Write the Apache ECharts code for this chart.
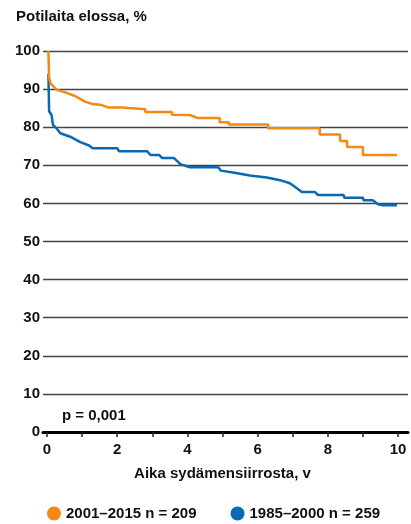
<!DOCTYPE html>
<html><head><meta charset="utf-8">
<script src="https://cdn.jsdelivr.net/npm/echarts@6/dist/echarts.min.js"></script>
<style>html,body{margin:0;padding:0;background:#fff}#c{width:411px;height:524px}</style>
</head><body><div id="c"></div>
<script>
const FONT = '"Liberation Sans",Arial,sans-serif';
const titleText = 'Potilaita elossa, %';
const xAxisName = 'Aika sydämensiirrosta, v';
const pText = 'p = 0,001';
const seriesNames = ['2001–2015 n = 209', '1985–2000 n = 259'];
const seriesColors = ['#f28a14', '#0a69b3'];
const xTicks = [0, 2, 4, 6, 8, 10];
const yTicks = [0, 10, 20, 30, 40, 50, 60, 70, 80, 90, 100];

// Survival curve, 2001–2015 (years, % alive)
const recent = [[0.04,100],[0.06,93],[0.1,91.5],[0.28,89.8],[0.5,89.2],[0.8,88.2],[1.08,86.7],[1.3,86.1],[1.56,85.8],[1.74,85.2],[2.13,85.2],[2.13,84.7],[2.8,84.7],[2.8,84.0],[3.56,84.0],[3.56,83.3],[4.07,83.2],[4.3,82.4],[4.92,82.4],[4.92,81.3],[5.18,81.3],[5.18,80.7],[6.3,80.7],[6.3,79.7],[7.77,79.7],[7.77,78.1],[8.35,78.1],[8.35,76.4],[8.55,76.4],[8.55,74.8],[9.0,74.8],[9.0,72.7],[9.97,72.7]];
// Survival curve, 1985–2000
const early = [[0.04,94],[0.06,84.2],[0.13,83.2],[0.17,80.6],[0.28,79.6],[0.38,78.4],[0.66,77.5],[0.95,76.1],[1.2,75.2],[1.3,74.5],[2.0,74.5],[2.05,73.7],[2.85,73.7],[2.95,72.7],[3.2,72.7],[3.28,71.9],[3.62,71.9],[3.8,70.3],[4.07,69.5],[4.88,69.5],[4.95,68.6],[5.3,68.1],[5.78,67.3],[6.26,66.8],[6.64,66.1],[6.92,65.3],[7.12,64.0],[7.26,63.0],[7.63,63.0],[7.72,62.2],[8.45,62.2],[8.47,61.5],[9.0,61.5],[9.02,60.8],[9.28,60.8],[9.43,59.8],[9.57,59.5],[9.97,59.5]];

const chart = echarts.init(document.getElementById('c'), null, {renderer:'canvas'});
const txt = {fontFamily: FONT, fontWeight: 'bold', color: '#111'};
chart.setOption({
  animation: false,
  textStyle: {fontFamily: FONT},
  title: {text: titleText, left: 16, top: 9, padding: 0, textStyle: Object.assign({fontSize: 15}, txt)},
  grid: [
    {left: 43, right: 3, top: 51, bottom: 92},
    {left: 47, right: 13, top: 51, bottom: 92}
  ],
  xAxis: [
    {gridIndex: 0, type: 'value', min: 0, max: 1, z: 5,
     axisLine: {show: true, lineStyle: {color: '#000', width: 3}},
     axisTick: {show: false}, axisLabel: {show: false}, splitLine: {show: false}},
    {gridIndex: 1, type: 'value', min: 0, max: 10, interval: 1, z: 6,
     axisLine: {show: false},
     axisTick: {show: true, length: 5, lineStyle: {color: '#222', width: 1.5}},
     axisLabel: Object.assign({fontSize: 15, margin: 10, formatter: v => xTicks.indexOf(v) >= 0 ? String(v) : ''}, txt),
     splitLine: {show: false},
     name: xAxisName, nameLocation: 'middle', nameGap: 34,
     nameTextStyle: Object.assign({fontSize: 15}, txt)}
  ],
  yAxis: [
    {gridIndex: 0, type: 'value', min: 0, max: 100, interval: 10,
     axisLine: {show: false}, axisTick: {show: false},
     axisLabel: Object.assign({fontSize: 15, margin: 3, formatter: v => yTicks.indexOf(v) >= 0 ? String(v) : ''}, txt),
     splitLine: {show: true, lineStyle: {color: '#444', width: 1.3}}},
    {gridIndex: 1, type: 'value', min: 0, max: 100, show: false}
  ],
  legend: {
    data: seriesNames, left: 47, top: 506, padding: 0, icon: 'circle', itemWidth: 14, itemHeight: 14, itemGap: 34,
    textStyle: Object.assign({fontSize: 15}, txt)
  },
  graphic: [{type: 'text', left: 62, top: 408, style: {text: pText, font: 'bold 15px ' + FONT, fill: '#111'}}],
  series: [
    {name: seriesNames[1], type: 'line', xAxisIndex: 1, yAxisIndex: 1, data: early, symbol: 'none',
     color: seriesColors[1], lineStyle: {width: 2.5, color: seriesColors[1]}},
    {name: seriesNames[0], type: 'line', xAxisIndex: 1, yAxisIndex: 1, data: recent, symbol: 'none',
     color: seriesColors[0], lineStyle: {width: 2.5, color: seriesColors[0]}}
  ]
});
</script></body></html>
